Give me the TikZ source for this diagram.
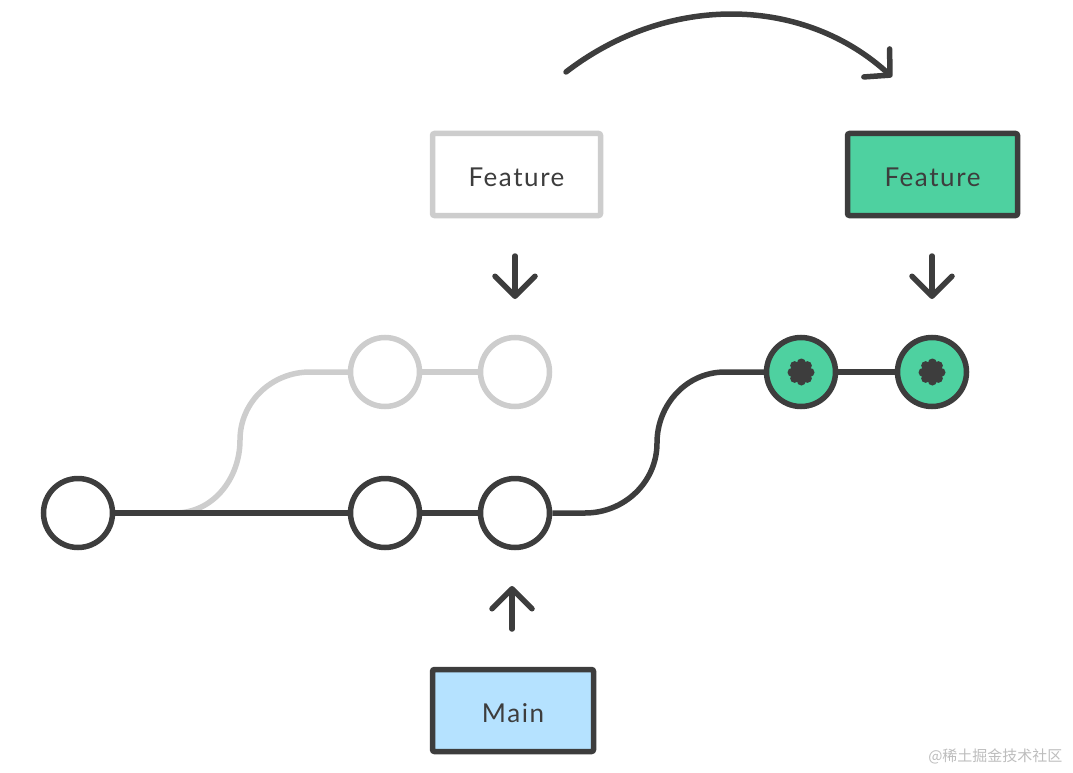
\documentclass[tikz,border=0pt]{standalone}
\usepackage{fontspec}
\setmainfont{Lato}
\newfontfamily\cjkfont{Noto Sans CJK SC}
\newfontfamily\labelfont{Lato}[LetterSpace=6]
\usetikzlibrary{arrows.meta,calc}
\definecolor{dark}{HTML}{3D3D3D}
\definecolor{lightgray}{HTML}{CDCDCD}
\definecolor{mint}{HTML}{4ED1A0}
\definecolor{skyblue}{HTML}{B5E2FF}
\tikzset{
  commit/.style={circle, draw=dark, line width=5.5pt, minimum size=69pt, inner sep=0pt, fill=white},
  ghost/.style={commit, draw=lightgray},
  newcommit/.style={commit, fill=mint},
  branchbox/.style={rectangle, rounded corners=2pt, line width=5.5pt, draw=dark, minimum height=82pt, inner sep=0pt,
    font=\labelfont\fontsize{26pt}{28pt}\selectfont, text=dark, text depth=0pt, text height=24pt},
  edge/.style={line width=5.5pt, draw=dark},
  ghostedge/.style={line width=5.5pt, draw=lightgray},
  pointer/.style={line width=5.5pt, draw=dark, line cap=round,
    -{Straight Barb[length=20pt, width=40pt, line cap=round, round]}},
}
\begin{document}
\begin{tikzpicture}[x=1pt,y=-1pt]
\useasboundingbox (0,0) rectangle (1073,773);
\node[commit] (c1) at (78,513) {};
\node[commit] (c2) at (385,513) {};
\node[commit] (c3) at (515,513) {};
\node[ghost] (g1) at (385,372) {};
\node[ghost] (g2) at (515,372) {};
\node[newcommit] (n1) at (801,372) {};
\node[newcommit] (n2) at (932,372) {};
% connectors
\coordinate (gb) at (175,513);
\draw[ghostedge] (gb) to[out=0,in=-90] (240,440) to[out=90,in=180] (310,372) -- (g1.west);
\draw[ghostedge] (g1.east) -- (g2.west);
\draw[edge] (c1.east) -- (c2.west);
\draw[edge] (c2.east) -- (c3.west);
\draw[edge] (c3.east) -- (585,513) to[out=0,in=-90] (657,443) to[out=90,in=180] (725,372) -- (n1.west);
\draw[edge] (n1.east) -- (n2.west);
% asterisks
\foreach \n in {n1,n2}{
  \foreach \a in {0,45,90,135}{
    \draw[dark, line width=9pt, line cap=round] ($(\n)+(\a:9)$) -- ($(\n)+(\a+180:9)$);
  }
  \fill[dark] (\n) circle (10);
}
% boxes
\node[branchbox, draw=lightgray, fill=white, minimum width=168pt] (fold) at (516.5,174.5) {Feature};
\node[branchbox, fill=mint, minimum width=170pt] (fnew) at (932.5,174.5) {Feature};
\node[branchbox, fill=skyblue, minimum width=161pt] (main) at (513,710.5) {Main};
% pointer arrows
\coordinate (a1s) at (515,256); \coordinate (a1e) at (515,299);
\coordinate (a2s) at (932,256); \coordinate (a2e) at (932,299);
\coordinate (a3s) at (512,629); \coordinate (a3e) at (512,586);
\draw[pointer] (a1s) -- (a1e);
\draw[pointer] (a2s) -- (a2e);
\draw[pointer] (a3s) -- (a3e);
% top arc
\coordinate (arcs) at (566,72); \coordinate (arce) at (892,77);
\draw[pointer, -{Straight Barb[length=18pt, width=38pt, line cap=round, round]}] (arcs) .. controls (670,-8) and (805,-3) .. (arce);
% watermark
\node[text=lightgray!80!gray, font=\cjkfont\fontsize{15pt}{17pt}\selectfont, anchor=east] (wm) at (1066,756) {@稀土掘金技术社区};
\end{tikzpicture}
\end{document}
